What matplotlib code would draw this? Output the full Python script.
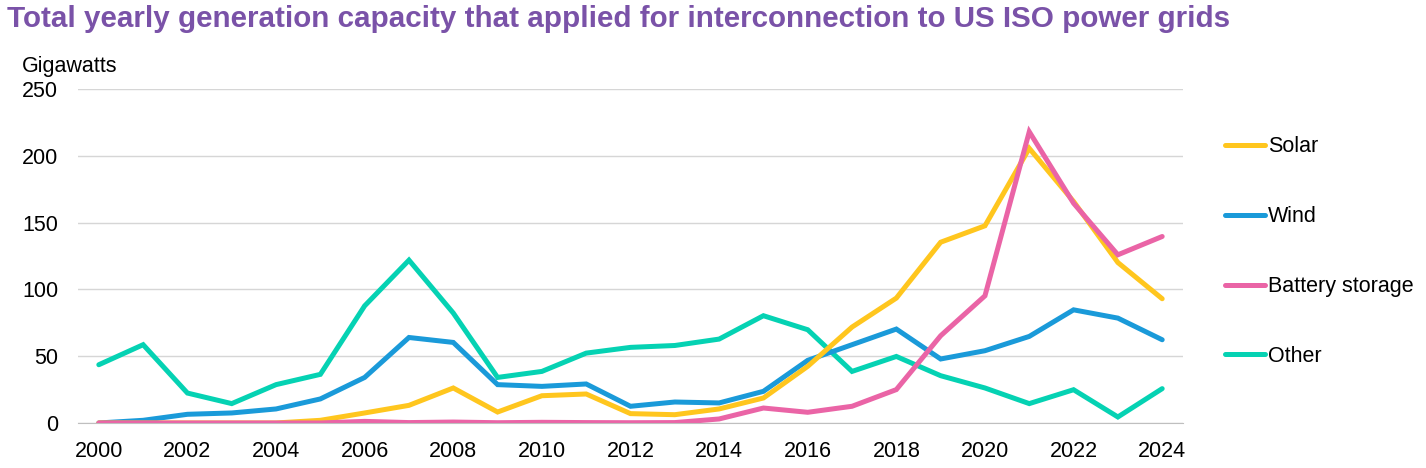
import matplotlib
matplotlib.use('Agg')
import matplotlib.pyplot as plt
from matplotlib.lines import Line2D

plt.rcParams['font.family'] = ['Liberation Sans', 'DejaVu Sans']

years = list(range(2000, 2025))
solar = [0, 0, 0, 0, 0, 2, 7.5, 13.2, 26.2, 8.2, 20.4, 21.7, 7, 6.2, 10.5, 18.7,
         42.4, 71.8, 93.5, 135.3, 147.6, 205.6, 165.8, 120.1, 93]
wind = [0, 2, 6.5, 7.5, 10.5, 18, 34.1, 64, 60.3, 28.7, 27.4, 29.2, 12.5, 15.7, 15,
        23.7, 46.9, 58.6, 70.3, 47.9, 54.1, 64.8, 84.7, 78.5, 62.3]
battery = [0, 0, 0, 0, 0, 0, 1.2, 0.3, 0.7, 0.2, 0.5, 0.3, 0.2, 0.3, 3, 11.2, 8,
           12.5, 25, 65.3, 95.2, 218, 164.5, 125.9, 139.6]
other = [43.6, 58.6, 22.4, 14.5, 28.7, 36.4, 87.7, 121.9, 82.3, 34.1, 38.6, 52.3,
         56.6, 58, 62.8, 80.3, 69.8, 38.6, 49.8, 35.4, 26.2, 14.5, 24.9, 4.5, 25.7]

c_solar = '#FFC61E'
c_wind = '#1A9AD9'
c_batt = '#EA64A6'
c_other = '#05D2B3'

fig = plt.figure(figsize=(14.26, 4.68), dpi=100)
ax = fig.add_axes([0.0547, 0.0962, 0.7749, 0.7136])

lw = 3.6
for vals, col in [(other, c_other), (wind, c_wind), (solar, c_solar), (battery, c_batt)]:
    ax.plot(years, vals, color=col, lw=lw, solid_joinstyle='miter', solid_capstyle='round')

ax.set_ylim(0, 250)
ax.set_xlim(1999.53, 2024.47)
ax.set_yticks([0, 50, 100, 150, 200, 250])
ax.set_xticks(list(range(2000, 2025, 2)))
ax.yaxis.grid(True, color='#d6d6d6', lw=1)
ax.set_axisbelow(True)
for s in ['top', 'right', 'left']:
    ax.spines[s].set_visible(False)
ax.spines['bottom'].set_color('#bfbfbf')
ax.tick_params(length=0, labelsize=15.5, colors='black')
ax.tick_params(axis='y', pad=14.4)
ax.tick_params(axis='x', pad=13)

fig.text(0.0154, 0.857, 'Gigawatts', fontsize=15.5, ha='left', va='center')
fig.text(0.005, 0.959, 'Total yearly generation capacity that applied for interconnection to US ISO power grids',
         fontsize=21.3, fontweight='bold', color='#7A52A8', ha='left', va='center')

handles = [Line2D([], [], color=c, lw=lw, solid_capstyle='round') for c in [c_solar, c_wind, c_batt, c_other]]
ax.legend(handles, ['Solar', 'Wind', 'Battery storage', 'Other'], loc='center left',
          bbox_to_anchor=(1.038, 0.513), frameon=False, fontsize=15.5,
          labelspacing=2.27, handlelength=1.86, handletextpad=0.14,
          borderaxespad=0, borderpad=0)

fig.savefig('out.png', dpi=100)
